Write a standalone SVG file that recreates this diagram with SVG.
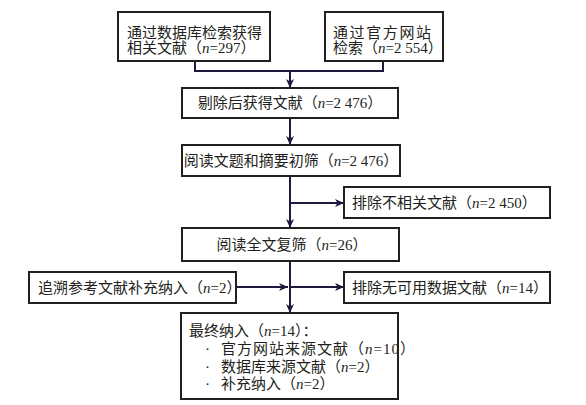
<svg xmlns="http://www.w3.org/2000/svg" width="586" height="405" viewBox="0 0 586 405">
<defs>
<marker id="arr" markerUnits="userSpaceOnUse" markerWidth="10" markerHeight="10" refX="9" refY="5" orient="auto">
<path d="M0,1 L9,5 L0,9 L2.5,5 z" fill="#1d1a3d"/>
</marker>
<style>
.box{fill:#fff;stroke:#231f20;stroke-width:2}
.t{font-family:"Liberation Serif","Noto Sans CJK SC",serif;font-size:15px;fill:#231f20}
.c{text-anchor:middle}
.ln{fill:none;stroke:#1d1a3d;stroke-width:2}
.a{marker-end:url(#arr)}
</style>
</defs>
<rect width="586" height="405" fill="#fff"/>
<g id="connectors">
<path class="ln" d="M195,61 V71 H383 V61"/>
<path class="ln a" d="M290,71 V88"/>
<path class="ln a" d="M290,118 V145"/>
<path class="ln a" d="M290,176 V228"/>
<path class="ln a" d="M290,203 H344"/>
<path class="ln a" d="M290,261 V313"/>
<path class="ln a" d="M236,287 H288"/>
<path class="ln a" d="M290,287 H344"/>
</g>
<g id="n1">
<rect class="box" x="118" y="12" width="152" height="49"/>
<text class="t" x="127" y="38">通过数据库检索获得</text>
<text class="t" x="127" y="53">相关文献（<tspan font-style="italic">n</tspan>=297）</text>
</g>
<g id="n2">
<rect class="box" x="325" y="12" width="118" height="49"/>
<text class="t" x="333" y="38" letter-spacing="1.6">通过官方网站</text>
<text class="t" x="333" y="53">检索（<tspan font-style="italic">n</tspan>=2 554）</text>
</g>
<g id="n3">
<rect class="box" x="182" y="88" width="216" height="30"/>
<text class="t c" x="290" y="108">剔除后获得文献（<tspan font-style="italic">n</tspan>=2 476）</text>
</g>
<g id="n4">
<rect class="box" x="182" y="145" width="218" height="31"/>
<text class="t c" x="291" y="166">阅读文题和摘要初筛（<tspan font-style="italic">n</tspan>=2 476）</text>
</g>
<g id="n5">
<rect class="box" x="344" y="187" width="206" height="31"/>
<text class="t" x="352" y="208">排除不相关文献（<tspan font-style="italic">n</tspan>=2 450）</text>
</g>
<g id="n6">
<rect class="box" x="182" y="228" width="217" height="33"/>
<text class="t c" x="292" y="250">阅读全文复筛（<tspan font-style="italic">n</tspan>=26）</text>
</g>
<g id="n7">
<rect class="box" x="29" y="272" width="207" height="31"/>
<text class="t" x="38" y="293">追溯参考文献补充纳入（<tspan font-style="italic">n</tspan>=2）</text>
</g>
<g id="n8">
<rect class="box" x="344" y="272" width="206" height="31"/>
<text class="t" x="352" y="293">排除无可用数据文献（<tspan font-style="italic">n</tspan>=14）</text>
</g>
<g id="n9">
<rect class="box" x="181" y="313" width="217" height="86"/>
<text class="t" x="189" y="336">最终纳入（<tspan font-style="italic">n</tspan>=14）：</text>
<text class="t" x="205" y="354">·</text>
<text class="t" x="221" y="354" letter-spacing="1">官方网站来源文献（<tspan font-style="italic">n</tspan>=10）</text>
<text class="t" x="205" y="372">·</text>
<text class="t" x="221" y="372">数据库来源文献（<tspan font-style="italic">n</tspan>=2）</text>
<text class="t" x="205" y="389">·</text>
<text class="t" x="221" y="389">补充纳入（<tspan font-style="italic">n</tspan>=2）</text>
</g>
</svg>
